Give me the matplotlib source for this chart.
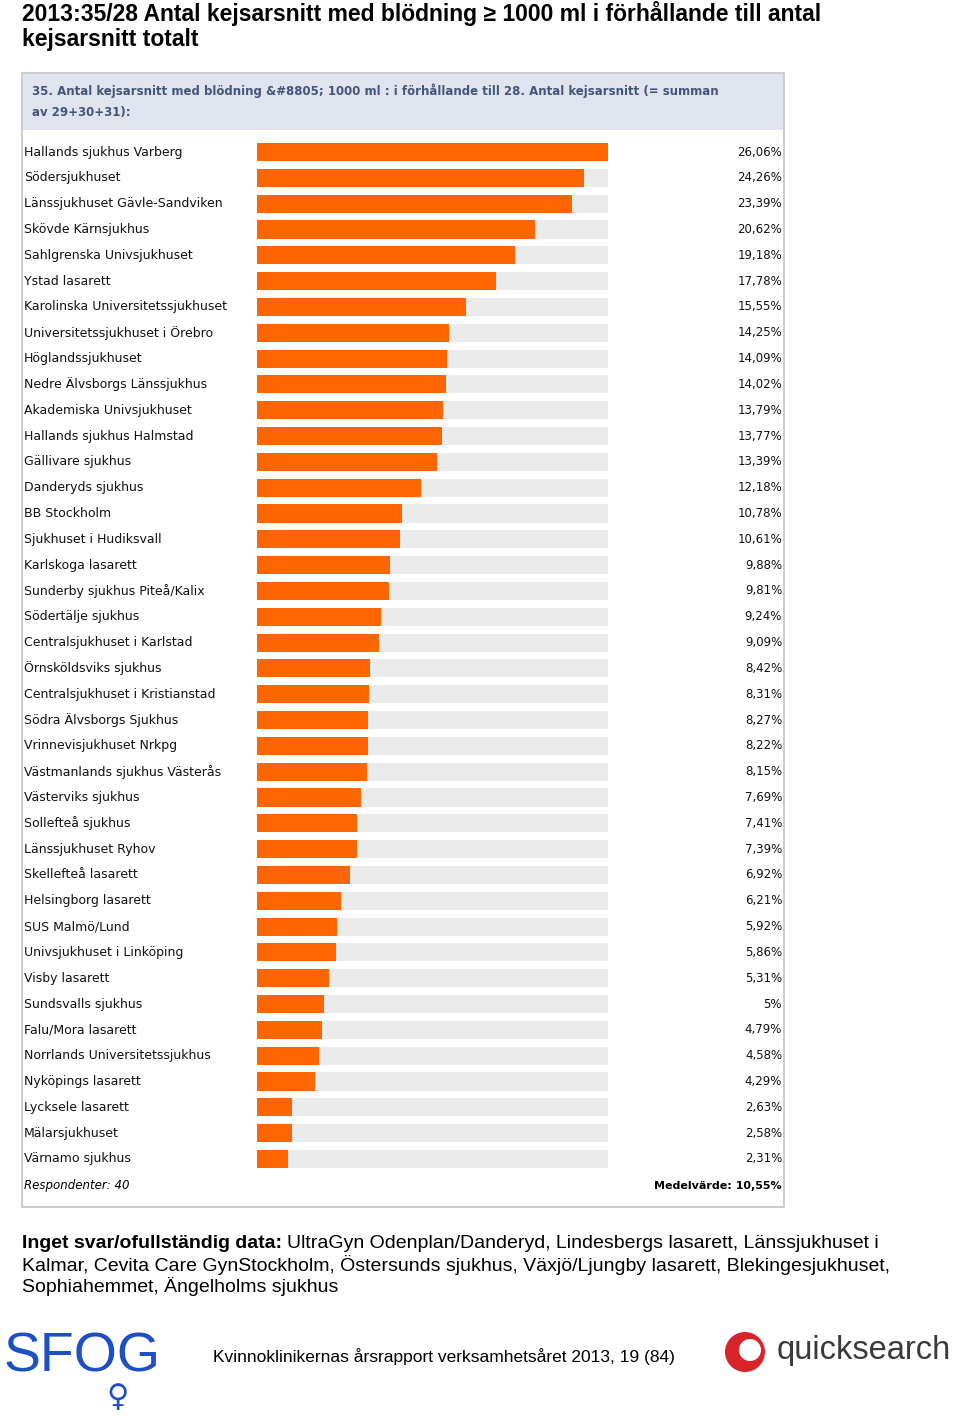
import matplotlib.pyplot as plt
from matplotlib.patches import Rectangle, Circle
from matplotlib.transforms import blended_transform_factory

# Data
sjukhus = [
    "Hallands sjukhus Varberg", "Södersjukhuset", "Länssjukhuset Gävle-Sandviken",
    "Skövde Kärnsjukhus", "Sahlgrenska Univsjukhuset", "Ystad lasarett",
    "Karolinska Universitetssjukhuset", "Universitetssjukhuset i Örebro",
    "Höglandssjukhuset", "Nedre Älvsborgs Länssjukhus", "Akademiska Univsjukhuset",
    "Hallands sjukhus Halmstad", "Gällivare sjukhus", "Danderyds sjukhus",
    "BB Stockholm", "Sjukhuset i Hudiksvall", "Karlskoga lasarett",
    "Sunderby sjukhus Piteå/Kalix", "Södertälje sjukhus", "Centralsjukhuset i Karlstad",
    "Örnsköldsviks sjukhus", "Centralsjukhuset i Kristianstad", "Södra Älvsborgs Sjukhus",
    "Vrinnevisjukhuset Nrkpg", "Västmanlands sjukhus Västerås", "Västerviks sjukhus",
    "Sollefteå sjukhus", "Länssjukhuset Ryhov", "Skellefteå lasarett",
    "Helsingborg lasarett", "SUS Malmö/Lund", "Univsjukhuset i Linköping",
    "Visby lasarett", "Sundsvalls sjukhus", "Falu/Mora lasarett",
    "Norrlands Universitetssjukhus", "Nyköpings lasarett", "Lycksele lasarett",
    "Mälarsjukhuset", "Värnamo sjukhus",
]
andel = [
    26.06, 24.26, 23.39, 20.62, 19.18, 17.78, 15.55, 14.25, 14.09, 14.02,
    13.79, 13.77, 13.39, 12.18, 10.78, 10.61, 9.88, 9.81, 9.24, 9.09,
    8.42, 8.31, 8.27, 8.22, 8.15, 7.69, 7.41, 7.39, 6.92, 6.21,
    5.92, 5.86, 5.31, 5.00, 4.79, 4.58, 4.29, 2.63, 2.58, 2.31,
]
respondenter = 40
medelvarde = 10.55

W, H = 960, 1420


def fmt(v):
    if v == int(v):
        return f"{int(v)}%"
    return f"{v:.2f}".replace(".", ",") + "%"


fig = plt.figure(figsize=(W / 100, H / 100), dpi=100)
fig.patch.set_facecolor("white")

# bakgrund i pixelkoordinater
bg = fig.add_axes([0, 0, 1, 1])
bg.set_xlim(0, W)
bg.set_ylim(H, 0)
bg.axis("off")

# panelram och rubrikfält
bg.add_patch(Rectangle((22, 73), 762, 1134, facecolor="white", edgecolor="#c4c4c4", lw=1.2))
bg.add_patch(Rectangle((23, 74), 760, 56, facecolor="#dfe4ee", edgecolor="none"))

bg.text(22, 1, "2013:35/28 Antal kejsarsnitt med blödning ≥ 1000 ml i förhållande till antal\nkejsarsnitt totalt",
        fontsize=16.5, fontweight="bold", family="Liberation Sans", va="top",
        linespacing=1.12, ha="left")
bg.text(32, 101, "35. Antal kejsarsnitt med blödning &#8805; 1000 ml : i förhållande till 28. Antal kejsarsnitt (= summan\nav 29+30+31):",
        fontsize=8.5, fontweight="bold", color="#44557a", va="center", linespacing=1.85)

# staplar
top_px, bot_px = 139.1, 1171.9
ax = fig.add_axes([257 / W, 1 - bot_px / H, 351 / W, (bot_px - top_px) / H])
n = len(sjukhus)
y = list(range(n))
vmax = max(andel)
ax.barh(y, [vmax] * n, height=0.7, color="#ebebeb")
ax.barh(y, andel, height=0.7, color="#ff6600")
ax.set_xlim(0, vmax)
ax.set_ylim(n - 0.5, -0.5)
ax.axis("off")

tr = blended_transform_factory(bg.transData, ax.transData)
for i, (namn, v) in enumerate(zip(sjukhus, andel)):
    ax.text(24, i, namn, transform=tr, fontsize=9, va="center", ha="left", color="#111111")
    ax.text(782, i, fmt(v), transform=tr, fontsize=8.5, va="center", ha="right", color="#111111")

bg.text(24, 1186, f"Respondenter: {respondenter}", fontsize=8.5, style="italic", va="center")
bg.text(782, 1186, "Medelvärde: " + fmt(medelvarde), fontsize=8, fontweight="bold", va="center", ha="right")

# fotnot
bg.text(22, 1243, "Inget svar/ofullständig data:", fontsize=14, fontweight="bold",
        family="Liberation Sans", va="center")
bg.text(287, 1243, "UltraGyn Odenplan/Danderyd, Lindesbergs lasarett, Länssjukhuset i",
        fontsize=14, family="Liberation Sans", va="center")
bg.text(22, 1265, "Kalmar, Cevita Care GynStockholm, Östersunds sjukhus, Växjö/Ljungby lasarett, Blekingesjukhuset,",
        fontsize=14, family="Liberation Sans", va="center")
bg.text(22, 1287, "Sophiahemmet, Ängelholms sjukhus", fontsize=14, family="Liberation Sans", va="center")

# sidfot
bg.text(213, 1357, "Kvinnoklinikernas årsrapport verksamhetsåret 2013, 19 (84)", fontsize=12.5,
        family="Liberation Sans", va="center")
bg.text(4, 1358, "SFOG", fontsize=40, color="#1f4fc4", family="Liberation Sans", va="center")
bg.text(118, 1398, "♀", fontsize=22, color="#1f4fc4", va="center", ha="center")
bg.add_patch(Circle((745, 1352), 20, facecolor="#d8242a", edgecolor="none"))
bg.add_patch(Circle((750, 1350), 11, facecolor="white", edgecolor="none"))
bg.text(777, 1350, "quicksearch", fontsize=23.5, color="#3a3a3a", family="Liberation Sans",
        va="center")

fig.savefig("out.png", dpi=100)
